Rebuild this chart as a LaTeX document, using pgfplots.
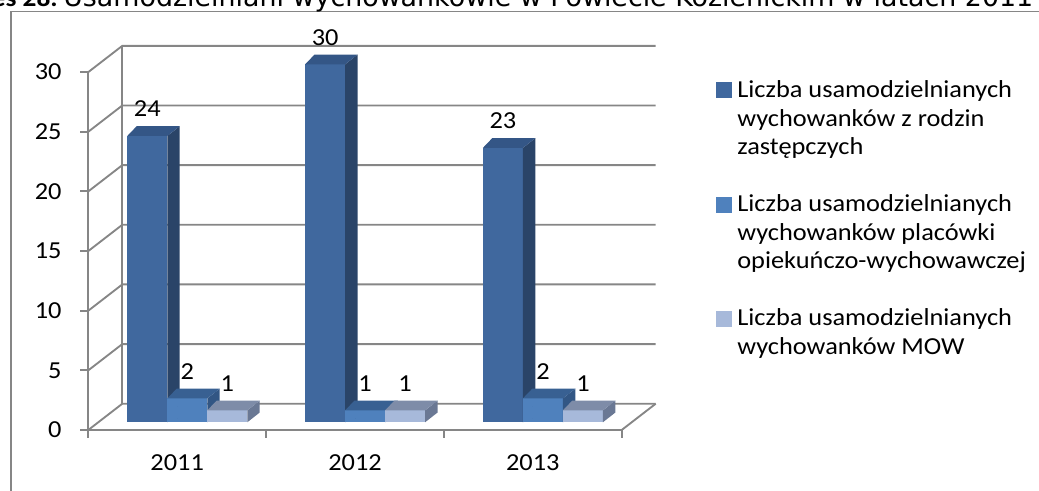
\documentclass[border=0pt]{standalone}
\usepackage{fontspec}
\setmainfont{Carlito}[FakeStretch=1.08]
\newfontfamily\titlefont{DejaVu Sans}
\usepackage{pgfplots}
\pgfplotsset{compat=1.18}
\usepackage{pgfplotstable}

\definecolor{gridgray}{RGB}{134,134,134}
\definecolor{s1front}{RGB}{64,104,158}
\definecolor{s1side}{RGB}{42,68,104}
\definecolor{s1top}{RGB}{52,86,134}
\definecolor{s2front}{RGB}{79,129,189}
\definecolor{s2side}{RGB}{50,86,132}
\definecolor{s2top}{RGB}{56,96,146}
\definecolor{s3front}{RGB}{167,185,218}
\definecolor{s3side}{RGB}{106,120,148}
\definecolor{s3top}{RGB}{126,140,168}

\pgfplotstableread{
x s1 s2 s3
0 24 2 1
1 30 1 1
2 23 2 1
}\datatable

\newcommand\chartfont{\fontsize{18.3}{21.4}\selectfont}
\tikzset{gridline/.style={draw=gridgray, line width=1.4pt}}

% #1 = horizontal offset of the bar centre (pt, no unit), #2 front, #3 side, #4 top colour
\pgfplotsset{
  bar3d/.style n args={4}{
    scatter, only marks, mark=square*, mark size=0pt,
    visualization depends on={rawy \as \barval},
    scatter/@pre marker code/.code={%
      \pgfmathsetmacro\xL{#1-15}%
      \pgfmathsetmacro\xR{#1+15}%
      \pgfmathsetmacro\xRb{#1+24.3}%
      \pgfmathsetmacro\xLb{#1-8}%
      \pgfmathsetmacro\xC{#1}%
      \pgfmathsetmacro\yB{5.8-\barval*8.9475}%
      \pgfmathsetmacro\yBb{13.1-\barval*8.9475}%
      \path[fill=#2, draw=none] (\xL pt,\yB pt) rectangle (\xR pt,5.8pt);
      \path[fill=#3, draw=none] (\xR pt,\yB pt) -- (\xRb pt,\yBb pt) -- (\xRb pt,13.1pt) -- (\xR pt,5.8pt) -- cycle;
      \path[fill=#4, draw=none] (\xL pt,5.8pt) -- (\xR pt,5.8pt) -- (\xRb pt,13.1pt) -- (\xLb pt,13.1pt) -- cycle;
      \node[anchor=base, inner sep=0pt, font=\chartfont, text=black] at (\xC pt,20.1pt) {\pgfmathprintnumber{\barval}};
    },
    scatter/@post marker code/.code={},
    legend image code/.code={\path[fill=#2, draw=none] (0pt,-5.4pt) rectangle (12pt,6.6pt);},
  },
}

\begin{document}
\begin{tikzpicture}[x=0.75pt,y=0.75pt]
\path[use as bounding box] (0,0) rectangle (1039,491);
\clip (0,0) rectangle (1039,491);

% chart border
\draw[draw=gridgray, line width=1.1pt] (11,-5) -- (11,479.5) -- (1045,479.5);

% title (cut by the image edge)
\node[anchor=base east, inner sep=0pt, font={\fontsize{19}{23}\selectfont\bfseries}] at (58,484.3) {Wykres 28.};
\node[anchor=base west, inner sep=0pt, font={\titlefont\fontsize{20.15}{24}\selectfont}] at (63,484.3) {Usamodzielniani wychowankowie w Powiecie Kozienickim w latach 2011--2013};

\begin{axis}[
  at={(66.225pt,45.75pt)}, anchor=south west,
  x=133.35pt, y=8.9475pt,
  xmin=-0.5, xmax=2.5, ymin=0, ymax=30,
  clip=false,
  axis lines*=left,
  axis line style={draw=gridgray, line width=1.4pt, -},
  every outer x axis line/.append style={-},
  every outer y axis line/.append style={-},
  tick align=outside,
  major tick length=6pt,
  tick style={draw=gridgray, line width=1.4pt},
  ytick={0,5,...,30},
  xtick={-0.5,0.5,1.5,2.5},
  xticklabels={{},{},{},{}},
  extra x ticks={0,1,2},
  extra x tick labels={2011,2012,2013},
  extra x tick style={major tick length=0pt},
  tick label style={font=\chartfont},
  yticklabel style={xshift=-10.5pt},
  xticklabel style={yshift=-14.6pt},
  /pgf/number format/assume math mode=true,
  legend cell align=left,
  legend style={at={(1.1768,0.9863)}, anchor=north west, draw=none, fill=none,
    inner sep=0pt, outer sep=0pt, row sep=0pt, column sep=4pt, font=\chartfont,
    nodes={inner sep=0pt, text height=15.5pt, text depth=5.9pt}},
]
% back wall, slanted grid lines and floor
\pgfplotsinvokeforeach{0,5,...,30}{
  \draw[gridline] (axis cs:-0.5,#1) -- ([shift={(25.5pt,19.7pt)}]axis cs:-0.5,#1) -- ([shift={(25.5pt,19.7pt)}]axis cs:2.5,#1);
}
\draw[gridline] ([shift={(25.5pt,19.7pt)}]axis cs:-0.5,0) -- ([shift={(25.5pt,19.7pt)}]axis cs:-0.5,30);
\draw[gridline] (axis cs:2.5,0) -- ([shift={(25.5pt,19.7pt)}]axis cs:2.5,0);

\addplot[bar3d={-22.4}{s1front}{s1side}{s1top}] table[x=x,y=s1]{\datatable};
\addlegendentry{Liczba usamodzielnianych}
\addlegendimage{empty legend}\addlegendentry{wychowanków z rodzin}
\addlegendimage{empty legend}\addlegendentry{zastępczych}
\addlegendimage{empty legend}\addlegendentry{\mbox{}}

\addplot[bar3d={7.6}{s2front}{s2side}{s2top}] table[x=x,y=s2]{\datatable};
\addlegendentry{Liczba usamodzielnianych}
\addlegendimage{empty legend}\addlegendentry{wychowanków placówki}
\addlegendimage{empty legend}\addlegendentry{opiekuńczo-wychowawczej}
\addlegendimage{empty legend}\addlegendentry{\mbox{}}

\addplot[bar3d={37.6}{s3front}{s3side}{s3top}] table[x=x,y=s3]{\datatable};
\addlegendentry{Liczba usamodzielnianych}
\addlegendimage{empty legend}\addlegendentry{wychowanków MOW}
\end{axis}
\end{tikzpicture}
\end{document}
